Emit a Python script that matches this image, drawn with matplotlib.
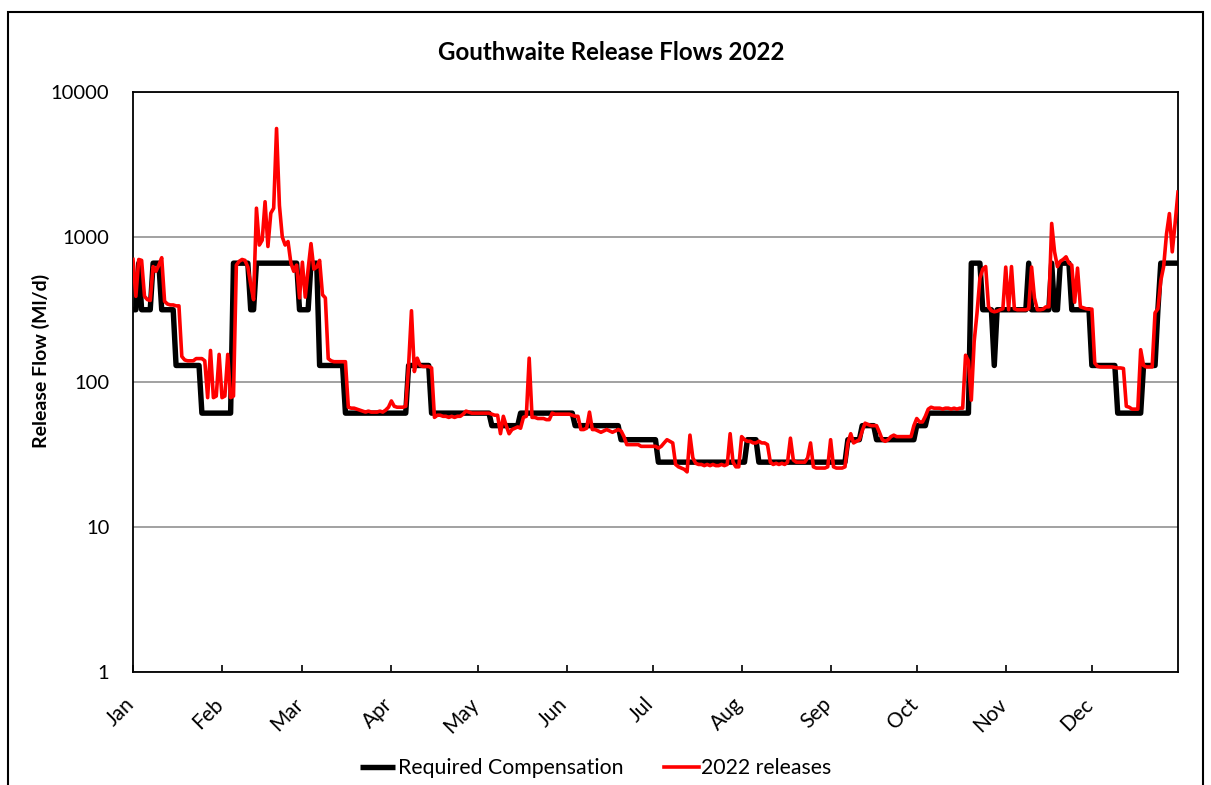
import matplotlib
matplotlib.use("Agg")
import matplotlib.pyplot as plt
import numpy as np
from matplotlib.patches import Rectangle
from matplotlib.ticker import FixedLocator, NullLocator, FixedFormatter
from matplotlib.transforms import ScaledTranslation

plt.rcParams['font.family'] = ['Lato', 'DejaVu Sans']

# Month labels and the day-of-year on which each month starts
months = ["Jan", "Feb", "Mar", "Apr", "May", "Jun",
          "Jul", "Aug", "Sep", "Oct", "Nov", "Dec"]
month_start = [0, 31, 59, 90, 120, 151, 181, 212, 243, 273, 304, 334]

# Required compensation flow (Ml/d), daily
compensation_jan = [315, 315, 660, 315, 315, 315, 315, 660, 660, 660, 315, 315, 315, 315, 315, 130,
                    130, 130, 130, 130, 130, 130, 130, 130, 61, 61, 61, 61, 61, 61, 61]
compensation_feb = [61, 61, 61, 61, 660, 660, 660, 660, 660, 660, 315, 315, 660, 660, 660, 660,
                    660, 660, 660, 660, 660, 660, 660, 660, 660, 660, 660, 315]
compensation_mar = [315, 315, 315, 660, 660, 660, 130, 130, 130, 130, 130, 130, 130, 130, 130, 61,
                    61, 61, 61, 61, 61, 61, 61, 61, 61, 61, 61, 61, 61, 61, 61]
compensation_apr = [61, 61, 61, 61, 61, 61, 130, 130, 130, 130, 130, 130, 130, 130, 61, 61,
                    61, 61, 61, 61, 61, 61, 61, 61, 61, 61, 61, 61, 61, 61]
compensation_may = [61, 61, 61, 61, 61, 50, 50, 50, 50, 50, 50, 50, 50, 50, 50, 61,
                    61, 61, 61, 61, 61, 61, 61, 61, 61, 61, 61, 61, 61, 61, 61]
compensation_jun = [61, 61, 61, 50, 50, 50, 50, 50, 50, 50, 50, 50, 50, 50, 50, 50,
                    50, 50, 50, 40, 40, 40, 40, 40, 40, 40, 40, 40, 40, 40]
compensation_jul = [40, 40, 28, 28, 28, 28, 28, 28, 28, 28, 28, 28, 28, 28, 28, 28,
                    28, 28, 28, 28, 28, 28, 28, 28, 28, 28, 28, 28, 28, 28, 28]
compensation_aug = [28, 28, 40, 40, 40, 40, 28, 28, 28, 28, 28, 28, 28, 28, 28, 28,
                    28, 28, 28, 28, 28, 28, 28, 28, 28, 28, 28, 28, 28, 28, 28]
compensation_sep = [28, 28, 28, 28, 28, 28, 40, 40, 40, 40, 40, 50, 50, 50, 50, 50,
                    40, 40, 40, 40, 40, 40, 40, 40, 40, 40, 40, 40, 40, 40]
compensation_oct = [50, 50, 50, 50, 61, 61, 61, 61, 61, 61, 61, 61, 61, 61, 61, 61,
                    61, 61, 61, 660, 660, 660, 660, 315, 315, 315, 315, 130, 315, 315, 315]
compensation_nov = [315, 315, 315, 315, 315, 315, 315, 315, 660, 315, 315, 315, 315, 315, 315, 315,
                    660, 315, 315, 660, 660, 660, 660, 315, 315, 315, 315, 315, 315, 315]
compensation_dec = [130, 130, 130, 130, 130, 130, 130, 130, 130, 61, 61, 61, 61, 61, 61, 61,
                    61, 61, 130, 130, 130, 130, 130, 315, 660, 660, 660, 660, 660, 660, 660]

# Actual 2022 releases (Ml/d), daily
releases_jan = [700, 390, 700, 690, 390, 370, 365, 625, 580, 640, 720, 360, 345, 340, 340, 335,
                335, 150, 142, 140, 140, 140, 145, 145, 145, 140, 78, 165, 78, 80, 155]
releases_feb = [78, 80, 155, 78, 80, 640, 680, 700, 690, 620, 470, 370, 1580, 880, 950, 1750,
                860, 1460, 1580, 5600, 1650, 1000, 880, 930, 660, 580, 640, 380]
releases_mar = [670, 385, 600, 900, 600, 620, 690, 400, 380, 145, 140, 138, 138, 138, 138, 138,
                67, 66, 66, 65, 64, 63, 62, 63, 62, 62, 62, 63, 62, 64, 67]
releases_apr = [74, 68, 67, 67, 67, 68, 130, 310, 118, 146, 130, 128, 128, 128, 125, 57,
                59, 59, 58, 58, 57, 58, 57, 58, 58, 60, 63, 62, 61, 61]
releases_may = [61, 61, 61, 61, 61, 60, 59, 59, 44, 58, 50, 44, 47, 48, 49, 48,
                57, 58, 146, 57, 57, 56, 56, 56, 55, 55, 61, 60, 60, 60, 60]
releases_jun = [60, 60, 59, 58, 58, 47, 47, 48, 62, 47, 47, 46, 45, 46, 47, 46,
                45, 46, 47, 46, 42, 37, 37, 37, 37, 37, 36, 36, 36, 36]
releases_jul = [36, 36, 35, 36, 38, 40, 39, 38, 27, 26, 25.5, 25, 24, 43, 30, 27.5,
                27, 27, 26.5, 27, 26.5, 27, 26.5, 26.5, 27, 26.5, 27, 44, 28, 26, 26]
releases_aug = [42, 40, 39, 39, 38, 38, 39, 38, 38, 37, 28, 27, 27.5, 27, 27.5, 27,
                28, 41, 29, 28, 28, 28, 28, 30, 38, 26, 25.5, 25.5, 25.5, 25.5, 26]
releases_sep = [40, 26, 25.5, 25.5, 25.5, 26, 38, 44, 38, 39, 40, 46, 52, 51, 50, 50,
                50, 45, 40, 39, 40, 42, 43, 42, 42, 42, 42, 42, 42, 50]
releases_oct = [56, 53, 53, 58, 65, 67, 66, 66, 66, 65, 66, 66, 65, 66, 65, 66,
                66, 153, 140, 75, 190, 300, 520, 600, 625, 330, 310, 305, 308, 315, 320]
releases_nov = [620, 315, 625, 320, 315, 315, 315, 315, 320, 620, 380, 315, 315, 318, 330, 330,
                1240, 790, 625, 680, 700, 730, 660, 640, 355, 610, 330, 325, 320, 318]
releases_dec = [318, 135, 128, 127, 127, 127, 127, 127, 126, 125, 125, 124, 68, 67, 65, 65,
                65, 167, 130, 127, 127, 127, 300, 320, 500, 625, 1050, 1450, 790, 1250, 2040]

compensation = np.concatenate([compensation_jan, compensation_feb, compensation_mar,
                               compensation_apr, compensation_may, compensation_jun,
                               compensation_jul, compensation_aug, compensation_sep,
                               compensation_oct, compensation_nov, compensation_dec])
releases = np.concatenate([releases_jan, releases_feb, releases_mar, releases_apr,
                           releases_may, releases_jun, releases_jul, releases_aug,
                           releases_sep, releases_oct, releases_nov, releases_dec])
days = np.arange(len(releases))

y_ticks = [1, 10, 100, 1000, 10000]
y_tick_labels = ["1", "10", "100", "1000", "10000"]

W, H = 1211, 785
fig = plt.figure(figsize=(W / 100, H / 100), dpi=100)
fig.patch.set_facecolor("white")

# outer chart border
fig.add_artist(Rectangle((8 / W, -0.05), (1203 - 8) / W, 1.05 - 12 / H,
                         transform=fig.transFigure, fill=False,
                         edgecolor="black", linewidth=1.5))

ax = fig.add_axes([133 / W, 1 - 672 / H, (1178 - 133) / W, (672 - 92) / H])

ax.plot(days, compensation, color="black", lw=3.9, solid_joinstyle="round",
        solid_capstyle="butt", label="Required Compensation", zorder=3)
ax.plot(days, releases, color="#ff0000", lw=2.6, solid_joinstyle="round",
        label="2022 releases", zorder=4)

ax.set_yscale("log")
ax.set_ylim(1, 10000)
ax.set_xlim(0, 364)
ax.yaxis.set_major_locator(FixedLocator(y_ticks))
ax.yaxis.set_major_formatter(FixedFormatter(y_tick_labels))
ax.yaxis.set_minor_locator(NullLocator())
ax.grid(axis="y", color="#9a9a9a", lw=1.3)
ax.set_axisbelow(True)
ax.tick_params(axis="y", length=0, pad=17, labelsize=14.5)

ax.set_xticks(month_start)
ax.set_xticklabels(months, rotation=45, ha="right", va="top", fontsize=15)
ax.tick_params(axis="x", direction="in", length=5, width=1.2, pad=16)
ax.xaxis.set_minor_locator(NullLocator())
shift = ScaledTranslation(5 / 100, 0, fig.dpi_scale_trans)
for lbl in ax.get_xticklabels():
    lbl.set_transform(lbl.get_transform() + shift)

for s in ax.spines.values():
    s.set_linewidth(1.3)
    s.set_color("black")

fig.text(611 / W, 1 - 53 / H, "Gouthwaite Release Flows 2022", ha="center", va="center",
         fontsize=17.4, fontweight="bold")
fig.text(41 / W, 1 - 361 / H, "Release Flow (Ml/d)", ha="center", va="center",
         rotation=90, fontsize=14, fontweight="bold")

fig.legend(loc="center", bbox_to_anchor=(596 / W, 1 - 768 / H), ncol=2, frameon=False,
           fontsize=15.3, handlelength=1.65, handletextpad=0.12, columnspacing=1.9)

fig.savefig("out.png", dpi=100, facecolor="white")
